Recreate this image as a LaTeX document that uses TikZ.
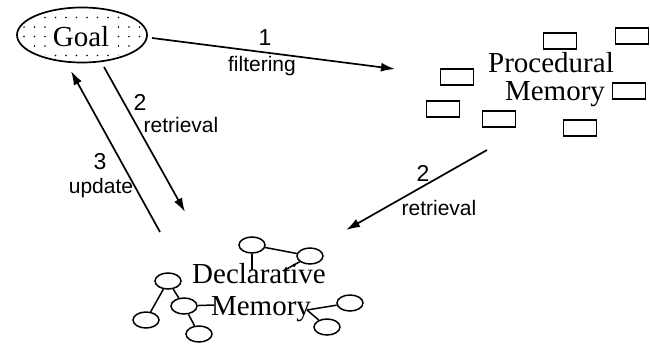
\documentclass[tikz,border=0pt]{standalone}
\usepackage{fontspec}
\setmainfont{Liberation Serif}
\newfontfamily\labelfont{Liberation Sans}
\usetikzlibrary{arrows.meta,shapes.geometric}
\begin{document}
\begin{tikzpicture}[x=1pt,y=-1pt,
  line width=1.7pt,
  big/.style={font=\fontsize{29}{29}\selectfont,inner sep=0pt,anchor=base},
  num/.style={font=\labelfont\fontsize{23}{23}\selectfont,inner sep=0pt,anchor=base},
  lbl/.style={font=\labelfont\fontsize{21}{21}\selectfont,inner sep=0pt,anchor=base},
  flow/.style={-{Latex[length=14pt,width=9pt]}},
  chunk/.style={draw,line width=1.7pt,minimum width=33pt,minimum height=16pt,inner sep=0pt},
  fact/.style={draw,ellipse,line width=1.5pt,minimum width=26pt,minimum height=16pt,inner sep=0pt},
  link/.style={line width=1.5pt}]
\useasboundingbox (0,0) rectangle (650,343);

% goal buffer: dotted ellipse
\begin{scope}
  \clip (82,35) ellipse [x radius=62pt,y radius=25pt];
  \foreach \i in {0,...,12}{
    \foreach \j in {0,...,6}{
      \fill ({24+\i*10.5},{8+\j*9.5}) circle (0.9pt);
    }
  }
\end{scope}
\node[draw,ellipse,line width=1.7pt,minimum width=130pt,minimum height=55pt] (goal) at (82,35) {};
\node[big,fill=white,inner sep=1.5pt] (goaltxt) at (81,46) {Goal};

% procedural memory: production rules as boxes
\node[big] (proc1) at (551,72) {Procedural};
\node[big] (proc2) at (555,100) {Memory};
\node[chunk] (r1) at (560,41) {};
\node[chunk] (r2) at (632,36) {};
\node[chunk] (r3) at (457,77) {};
\node[chunk] (r4) at (629,91) {};
\node[chunk] (r5) at (443,109) {};
\node[chunk] (r6) at (499,119) {};
\node[chunk] (r7) at (580,128) {};

% declarative memory: network of chunks
\node[big] (decl1) at (259,283) {Declarative};
\node[big] (decl2) at (261,315) {Memory};
\node[fact] (a) at (252,245) {};
\node[fact] (b) at (310,256) {};
\node[fact] (c) at (168,281) {};
\node[fact] (d) at (184,306) {};
\node[fact] (e) at (146,320) {};
\node[fact] (f) at (199,334) {};
\node[fact] (g) at (350,303) {};
\node[fact] (h) at (327,327) {};
\coordinate (al) at (252,270);
\coordinate (bl) at (283,271);
\coordinate (dm) at (214,305);
\coordinate (me) at (307,310);
\draw[link] (a) -- (b);
\draw[link] (a) -- (al);
\draw[link] (b) -- (bl);
\draw[link] (c) -- (e);
\draw[link] (c) -- (d);
\draw[link] (d) -- (f);
\draw[link] (d) -- (dm);
\draw[link] (me) -- (g);
\draw[link] (me) -- (h);

% connector end points
\coordinate (g1) at (152,38);
\coordinate (p1) at (395,69);
\coordinate (g2) at (104,67);
\coordinate (d2) at (185,212);
\coordinate (d3) at (160,232);
\coordinate (g3) at (71,71);
\coordinate (p2) at (487,150);
\coordinate (d4) at (346,230);

\draw[flow] (g1) -- (p1);
\draw[flow] (g2) -- (d2);
\draw[flow] (d3) -- (g3);
\draw[flow] (p2) -- (d4);

% connector labels
\node[num] (n1) at (265,45) {1};
\node[lbl] (l1) at (262,71) {filtering};
\node[num] (n2) at (140,110) {2};
\node[lbl] (l2) at (181,132) {retrieval};
\node[num] (n3) at (100,169) {3};
\node[lbl] (l3) at (101,193) {update};
\node[num] (n4) at (423,181) {2};
\node[lbl] (l4) at (439,215) {retrieval};
\end{tikzpicture}
\end{document}
